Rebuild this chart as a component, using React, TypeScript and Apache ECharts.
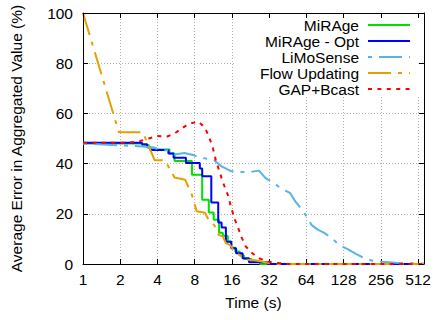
import React, { useEffect, useRef } from 'react';
import * as echarts from 'echarts';

const seriesNames = ['MiRAge', 'MiRAge - Opt', 'LiMoSense', 'Flow Updating', 'GAP+Bcast'];
const seriesColors = ['#00e000', '#0000ff', '#56b4e9', '#e69f00', '#ff0000'];

const X_MIN = 1;
const X_MAX = 571;
const yTicks = [0, 20, 40, 60, 80, 100];

// MiRAge (stepped)
const mirageTime = [1, 3.0, 3.4, 3.8, 5.0, 5.5, 7.6, 9.2, 10.4, 11.4, 12.6, 13.5, 14.8, 15.8, 17, 18.5, 20, 23, 27, 571];
const mirageErr = [48.0, 47.4, 46.3, 45.6, 44.0, 41.0, 35.6, 25.6, 20.5, 17.6, 12.5, 11.3, 9.0, 6.5, 5.0, 3.5, 2.0, 0.8, 0, 0];

// MiRAge - Opt (stepped)
const optTime = [1, 3.0, 3.3, 3.5, 4.9, 5.4, 6.8, 8.8, 9.2, 10.9, 12.4, 13.2, 14.3, 15.8, 17.3, 19.5, 22, 31, 571];
const optErr = [48.3, 47.7, 46.5, 45.4, 44.0, 42.3, 40.2, 38.0, 35.0, 24.5, 16.5, 14.5, 8.9, 6.3, 4.3, 2.3, 0.7, 0, 0];

// LiMoSense
const limoTime = [1, 2.6, 3.2, 3.8, 4.2, 4.9, 5.5, 6.6, 7.9, 9, 11.3, 13.1, 15.7, 18.8, 22, 24, 26.5, 29.8, 34.8, 40.5, 47.3, 52, 60.5, 70.3, 79.7, 89.9, 105, 118, 138, 161, 188, 219, 261, 335, 455, 571];
const limoErr = [48.0, 47.0, 46.7, 46.3, 45.3, 45.3, 43.6, 44.2, 43.3, 42.3, 41.6, 39.0, 37.0, 36.7, 36.5, 36.9, 37.2, 34.3, 32.3, 29.9, 28.3, 25.0, 21.0, 15.6, 13.6, 12.3, 9.9, 7.6, 5.9, 4.0, 2.3, 1.3, 0.9, 0.5, 0.3, 0.2];

// Flow Updating
const flowTime = [1, 1.95, 3.05, 3.8, 4.6, 5.5, 6.7, 7.6, 8.3, 9.7, 10.5, 11.5, 12.5, 13.5, 14.3, 15.5, 16.5, 18, 20.5, 24.5, 29.7, 34, 571];
const flowErr = [100, 52.5, 52.5, 41.3, 41.3, 34.5, 33.6, 27.5, 21.0, 20.4, 17.0, 15.6, 11.6, 11.0, 8.3, 7.5, 5.5, 4.0, 1.8, 1.5, 0.7, 0, 0];

// GAP+Bcast
const gapTime = [1, 2.3, 2.9, 3.4, 4, 4.75, 5.5, 6.4, 7.3, 8.6, 9.7, 10.4, 11.1, 11.9, 12.8, 13.6, 14.8, 15.7, 16.8, 17.8, 19, 20.7, 23.4, 26.5, 31, 36, 45, 571];
const gapErr = [48.3, 48.3, 49.0, 50.0, 51.0, 50.7, 52.0, 54.3, 56.0, 56.7, 54.3, 50.7, 47.2, 41.0, 36.3, 32.3, 27.6, 23.0, 18.0, 15.0, 11.0, 7.0, 4.3, 2.3, 1.0, 0.5, 0, 0];

const FONT = "'Liberation Sans', Arial, Helvetica, sans-serif";
const FS = 15.5;

const pairs = (t: number[], v: number[]) => t.map((x, i) => [x, v[i]]);

export default function App() {
  const ref = useRef<HTMLDivElement>(null);
  useEffect(() => {
    if (!ref.current) return;
    const chart = echarts.init(ref.current, undefined, { renderer: 'svg' });
    const gridLine = { show: true, lineStyle: { color: '#b0b0b0', width: 1, type: [1, 2] as any } };
    const axisLine = { show: true, onZero: false, lineStyle: { color: '#000', width: 1 } };
    const tick = { show: true, inside: true, length: 5, lineStyle: { color: '#000', width: 1 } };
    const lineSeries = (idx: number, data: number[][], extra: any) => ({
      name: seriesNames[idx],
      type: 'line',
      data,
      symbol: 'none',
      showSymbol: false,
      xAxisIndex: 0,
      yAxisIndex: 0,
      lineStyle: { color: seriesColors[idx], width: 2, ...(extra.lineStyle || {}) },
      itemStyle: { color: seriesColors[idx] },
      step: extra.step,
      z: 2,
    });
    chart.setOption({
      animation: false,
      backgroundColor: '#fff',
      textStyle: { fontFamily: FONT },
      grid: { left: 83, right: 5, top: 13, bottom: 56, containLabel: false },
      xAxis: [
        {
          type: 'log', logBase: 2, min: X_MIN, max: X_MAX, position: 'bottom',
          axisLine, axisTick: tick,
          axisLabel: { show: true, showMaxLabel: false, color: '#000', fontSize: FS, fontFamily: FONT, margin: 7 },
          splitLine: gridLine,
          name: 'Time (s)', nameLocation: 'middle', nameGap: 30,
          nameTextStyle: { color: '#000', fontSize: FS, fontFamily: FONT },
        },
        {
          type: 'log', logBase: 2, min: X_MIN, max: X_MAX, position: 'top', z: 5,
          axisLine, axisTick: tick, axisLabel: { show: false }, splitLine: { show: false },
        },
      ],
      yAxis: [
        {
          type: 'value', min: yTicks[0], max: yTicks[yTicks.length - 1], interval: 20, position: 'left',
          axisLine, axisTick: tick,
          axisLabel: { color: '#000', fontSize: FS, fontFamily: FONT, margin: 10 },
          splitLine: gridLine,
          name: 'Average Error in Aggregated Value (%)', nameLocation: 'middle', nameGap: 59,
          nameTextStyle: { color: '#000', fontSize: FS, fontFamily: FONT },
        },
        {
          type: 'value', min: yTicks[0], max: yTicks[yTicks.length - 1], interval: 20, position: 'right', z: 5,
          axisLine, axisTick: tick, axisLabel: { show: false }, splitLine: { show: false },
        },
      ],
      legend: {
        orient: 'vertical', align: 'right', right: 18, top: 12, padding: 5,
        itemWidth: 42, itemHeight: 10, itemGap: 0,
        itemStyle: { opacity: 0, borderWidth: 0 },
        textStyle: { color: '#000', fontSize: FS, fontFamily: FONT, lineHeight: 15.6, padding: [0, 4, 0, 0] },
        data: seriesNames,
        z: 6,
      },
      graphic: [
        { type: 'rect', z: 1, shape: { x: 236, y: 14, width: 183, height: 81 }, style: { fill: '#fff' } },
      ],
      series: [
        lineSeries(0, pairs(mirageTime, mirageErr), { step: 'end' }),
        lineSeries(1, pairs(optTime, optErr), { step: 'end' }),
        lineSeries(2, pairs(limoTime, limoErr), { lineStyle: { type: [4, 7, 23, 7] } }),
        lineSeries(3, pairs(flowTime, flowErr), { lineStyle: { type: [23, 7, 4, 7] } }),
        lineSeries(4, pairs(gapTime, gapErr), { lineStyle: { type: [4, 5.4] } }),
      ],
    });
    return () => chart.dispose();
  }, []);
  return <div ref={ref} style={{ position: 'fixed', left: 0, top: 0, width: 434, height: 320 }} />;
}
